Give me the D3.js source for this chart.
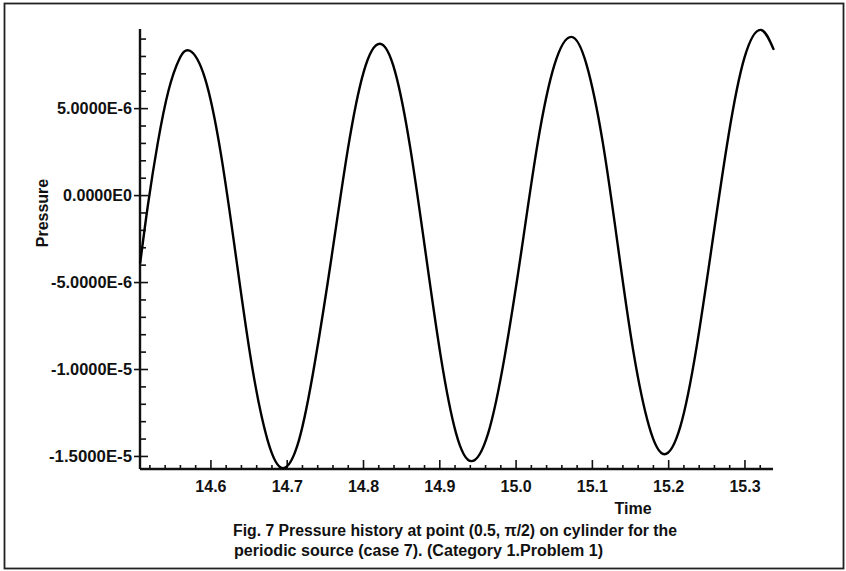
<!DOCTYPE html>
<html>
<head>
<meta charset="utf-8">
<script src="https://cdn.jsdelivr.net/npm/d3@7"></script>
<style>
  html, body { margin: 0; padding: 0; background: #fff; }
  svg { display: block; }
  text { font-family: "Liberation Sans", Arial, Helvetica, sans-serif; font-weight: bold; fill: #111; }
</style>
</head>
<body>
<svg id="chart" width="846" height="571"></svg>
<script>
// Pressure history samples: time and pressure (in units of 1e-6)
const times = [
  14.508, 14.518, 14.531, 14.545, 14.559, 14.573,
  14.593, 14.614, 14.634, 14.654, 14.675, 14.695,
  14.716, 14.737, 14.759, 14.780, 14.801, 14.822,
  14.842, 14.862, 14.882, 14.902, 14.922, 14.942,
  14.964, 14.986, 15.008, 15.029, 15.051, 15.073,
  15.093, 15.114, 15.134, 15.154, 15.175, 15.195,
  15.216, 15.237, 15.258, 15.279, 15.300, 15.321,
  15.338
];
const pressureE6 = [
  -3.9, -0.6, 3.0, 6.0, 7.8, 8.3,
  6.7, 2.3, -3.7, -9.7, -14.1, -15.7,
  -14.1, -9.6, -3.5, 2.6, 7.1, 8.7,
  7.1, 2.7, -3.3, -9.3, -13.7, -15.3,
  -13.7, -9.2, -3.1, 3.0, 7.5, 9.1,
  7.5, 3.1, -2.9, -8.9, -13.3, -14.9,
  -13.3, -8.8, -2.7, 3.4, 7.9, 9.5,
  8.4
];

// Axis ticks
const xMajorTicks = [14.6, 14.7, 14.8, 14.9, 15.0, 15.1, 15.2, 15.3];
const xTickLabels = ["14.6", "14.7", "14.8", "14.9", "15.0", "15.1", "15.2", "15.3"];
const xMinorTicks = [14.52, 14.54, 14.56, 14.58, 14.62, 14.64, 14.66, 14.68,
  14.72, 14.74, 14.76, 14.78, 14.82, 14.84, 14.86, 14.88,
  14.92, 14.94, 14.96, 14.98, 15.02, 15.04, 15.06, 15.08,
  15.12, 15.14, 15.16, 15.18, 15.22, 15.24, 15.26, 15.28, 15.32];
const yMajorTicks = [5e-6, 0, -5e-6, -1e-5, -1.5e-5];
const yTickLabels = ["5.0000E-6", "0.0000E0", "-5.0000E-6", "-1.0000E-5", "-1.5000E-5"];
const yLabelWidths = [75, 69, 81, 81, 83];
const yMinorTicks = [9e-6, 8e-6, 7e-6, 6e-6, 4e-6, 3e-6, 2e-6, 1e-6,
  -1e-6, -2e-6, -3e-6, -4e-6, -6e-6, -7e-6, -8e-6, -9e-6,
  -1.1e-5, -1.2e-5, -1.3e-5, -1.4e-5];

const captionLines = [
  "Fig. 7 Pressure history at point (0.5, \u03C0/2) on cylinder for the",
  "periodic source (case 7). (Category 1.Problem 1)"
];

const svg = d3.select("#chart");

// Outer frame
svg.append("rect")
  .attr("x", 4.5).attr("y", 3.5).attr("width", 839).attr("height", 565)
  .attr("fill", "none").attr("stroke", "#222").attr("stroke-width", 1.8);

const plot = { left: 140, right: 773, top: 29, bottom: 469 };

const x = d3.scaleLinear().domain([14.5077, 15.3374]).range([plot.left, plot.right]);
const y = d3.scaleLinear().domain([-15.75e-6, 9.55e-6]).range([plot.bottom, plot.top]);

// X axis: ticks point upward into the plot
const gx = svg.append("g").attr("transform", `translate(0,${plot.bottom})`);
gx.call(d3.axisBottom(x).tickValues(xMinorTicks).tickSizeInner(-4).tickSizeOuter(0).tickFormat(""));
gx.call(g => g.select(".domain").remove());
const gx2 = svg.append("g").attr("transform", `translate(0,${plot.bottom})`);
gx2.call(d3.axisBottom(x).tickValues(xMajorTicks).tickSizeInner(-9).tickSizeOuter(0)
  .tickPadding(12).tickFormat((d, i) => xTickLabels[i]));

// Y axis: ticks point right into the plot
const gy = svg.append("g").attr("transform", `translate(${plot.left},0)`);
gy.call(d3.axisLeft(y).tickValues(yMinorTicks).tickSizeInner(-6).tickSizeOuter(0).tickFormat(""));
gy.call(g => g.select(".domain").remove());
const gy2 = svg.append("g").attr("transform", `translate(${plot.left},0)`);
gy2.call(d3.axisLeft(y).tickValues(yMajorTicks).tickSizeInner(-8).tickSizeOuter(0)
  .tickPadding(8).tickFormat((d, i) => yTickLabels[i]));
// short outward stub on major y ticks
gy2.selectAll(".tick").append("line").attr("x1", -6).attr("x2", 0)
  .attr("stroke", "#111").attr("stroke-width", 1.6);

[gx, gx2, gy, gy2].forEach(g => {
  g.selectAll("line").attr("stroke", "#111").attr("stroke-width", 1.6);
  g.selectAll(".domain").attr("stroke", "#111").attr("stroke-width", 2.4);
  g.selectAll("text").attr("font-size", 16).attr("fill", "#111")
    .attr("font-family", "'Liberation Sans', Arial, sans-serif").attr("font-weight", "bold");
});
gy2.selectAll(".tick text")
  .attr("textLength", (d, i) => yLabelWidths[i]).attr("lengthAdjust", "spacingAndGlyphs");

// Axis lines span the full extent
gx2.select(".domain").attr("d", `M${plot.left},0H${plot.right}`);
gy2.select(".domain").attr("d", `M0,${plot.top}V${plot.bottom}`);

// Pressure curve
const pts = times.map((t, i) => [t, pressureE6[i] * 1e-6]);
const line = d3.line().x(d => x(d[0])).y(d => y(d[1])).curve(d3.curveNatural);
svg.append("path").datum(pts)
  .attr("d", line)
  .attr("fill", "none").attr("stroke", "#000").attr("stroke-width", 2.4)
  .attr("stroke-linejoin", "round").attr("stroke-linecap", "round");

// Axis titles
svg.append("text").attr("x", 633).attr("y", 514).attr("text-anchor", "middle")
  .attr("font-size", 16).text("Time");
svg.append("text").attr("transform", "translate(48,213) rotate(-90)")
  .attr("text-anchor", "middle").attr("font-size", 16).text("Pressure");

// Caption
svg.append("text").attr("x", 233).attr("y", 536).attr("font-size", 16)
  .attr("textLength", 444).attr("lengthAdjust", "spacingAndGlyphs").text(captionLines[0]);
svg.append("text").attr("x", 234).attr("y", 556).attr("font-size", 16)
  .attr("textLength", 369).attr("lengthAdjust", "spacingAndGlyphs").text(captionLines[1]);
</script>
</body>
</html>
